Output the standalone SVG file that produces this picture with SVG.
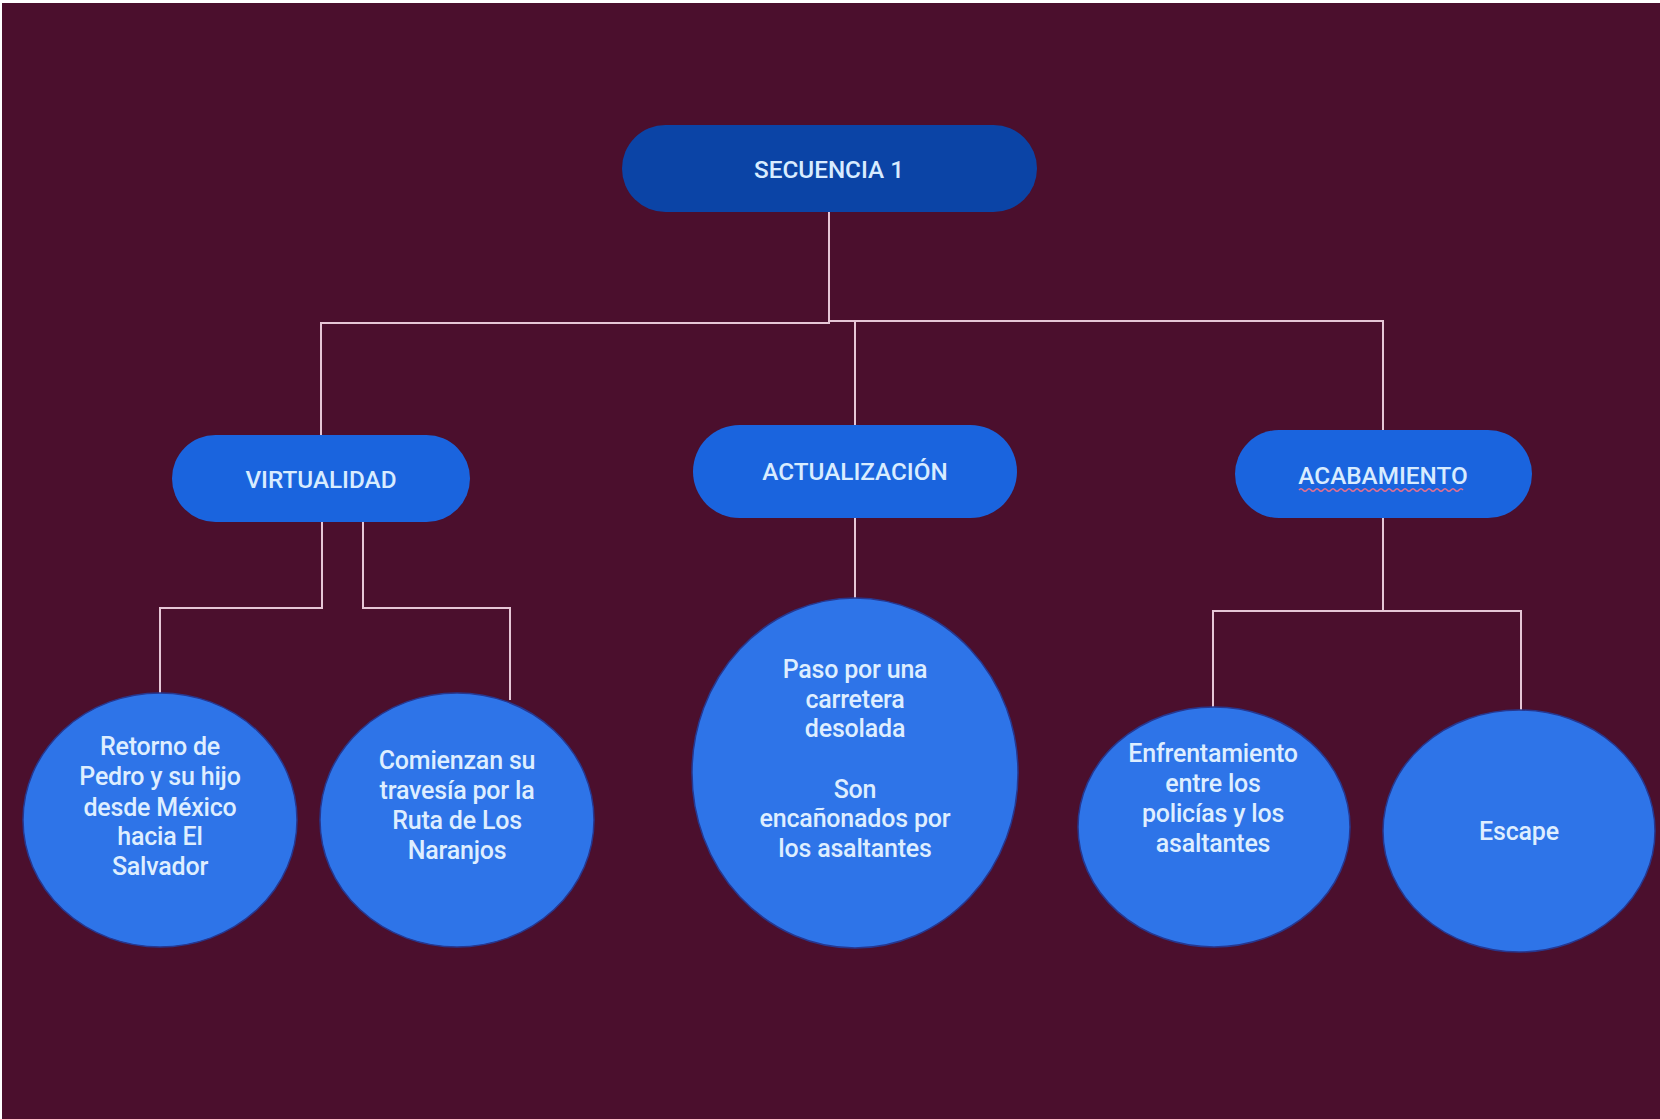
<svg xmlns="http://www.w3.org/2000/svg" width="1660" height="1119" viewBox="0 0 1660 1119">
<style>
.bg{fill:#4b0f2d}
.line{fill:none;stroke:#e6c6d6;stroke-width:2}
.pill{fill:#1a64de}
.pill-top{fill:#0b44a6}
.circ{fill:#2e74e8;stroke:#27378f;stroke-width:1.5}
.lbl{font-family:Roboto,"Liberation Sans",sans-serif;font-weight:500;font-size:24.3px;fill:#d8ecff;text-anchor:middle}
.ct{font-family:Roboto,"Liberation Sans",sans-serif;font-weight:500;font-size:25px;letter-spacing:-0.2px;fill:#deeeff;text-anchor:middle}
</style>
<rect x="0" y="0" width="1660" height="1119" fill="#ffffff"/>
<rect class="bg" x="2" y="3" width="1658" height="1116"/>
<g id="connectors">
<polyline class="line" points="829,212 829,323 321,323 321,435"/>
<polyline class="line" points="829,321 1383,321 1383,430"/>
<polyline class="line" points="855,321 855,425"/>
<polyline class="line" points="322,522 322,608 160,608 160,693"/>
<polyline class="line" points="363,518 363,608 510,608 510,700"/>
<polyline class="line" points="855,518 855,598"/>
<polyline class="line" points="1383,518 1383,611 1213,611 1213,707"/>
<polyline class="line" points="1383,611 1521,611 1521,711"/>
</g>
<g id="secuencia1">
<rect class="pill-top" x="622" y="125" width="415" height="87" rx="43.5"/>
<text class="lbl" x="829" y="178">SECUENCIA 1</text>
</g>
<g id="virtualidad">
<rect class="pill" x="172" y="435" width="298" height="87" rx="43.5"/>
<text class="lbl" x="321" y="488">VIRTUALIDAD</text>
</g>
<g id="actualizacion">
<rect class="pill" x="693" y="425" width="324" height="93" rx="46.5"/>
<text class="lbl" x="855" y="480">ACTUALIZACIÓN</text>
</g>
<g id="acabamiento">
<rect class="pill" x="1235" y="430" width="297" height="88" rx="44"/>
<text class="lbl" x="1383" y="484">ACABAMIENTO</text>
<path d="M1299,490 q2,-2.5 4,0 t4,0 t4,0 t4,0 t4,0 t4,0 t4,0 t4,0 t4,0 t4,0 t4,0 t4,0 t4,0 t4,0 t4,0 t4,0 t4,0 t4,0 t4,0 t4,0 t4,0 t4,0 t4,0 t4,0 t4,0 t4,0 t4,0 t4,0 t4,0 t4,0 t4,0 t4,0 t4,0 t4,0 t4,0 t4,0 t4,0 t4,0 t4,0 t4,0 t4,0" fill="none" stroke="#e8708f" stroke-width="1.4"/>
</g>
<g id="retorno">
<ellipse class="circ" cx="160" cy="820" rx="137" ry="127"/>
<text class="ct" x="160" y="755">Retorno de</text>
<text class="ct" x="160" y="785">Pedro y su hijo</text>
<text class="ct" x="160" y="816">desde México</text>
<text class="ct" x="160" y="845">hacia El</text>
<text class="ct" x="160" y="875">Salvador</text>
</g>
<g id="comienzan">
<ellipse class="circ" cx="457" cy="820" rx="137" ry="127"/>
<text class="ct" x="457" y="769">Comienzan su</text>
<text class="ct" x="457" y="799">travesía por la</text>
<text class="ct" x="457" y="829">Ruta de Los</text>
<text class="ct" x="457" y="859">Naranjos</text>
</g>
<g id="paso">
<ellipse class="circ" cx="855" cy="773" rx="163" ry="175"/>
<text class="ct" x="855" y="678">Paso por una</text>
<text class="ct" x="855" y="708">carretera</text>
<text class="ct" x="855" y="737">desolada</text>
<text class="ct" x="855" y="798">Son</text>
<text class="ct" x="855" y="827">encañonados por</text>
<text class="ct" x="855" y="857">los asaltantes</text>
</g>
<g id="enfrentamiento">
<ellipse class="circ" cx="1214" cy="827" rx="136" ry="120"/>
<text class="ct" x="1213" y="762">Enfrentamiento</text>
<text class="ct" x="1213" y="792">entre los</text>
<text class="ct" x="1213" y="822">policías y los</text>
<text class="ct" x="1213" y="852">asaltantes</text>
</g>
<g id="escape">
<ellipse class="circ" cx="1519" cy="831" rx="136" ry="121"/>
<text class="ct" x="1519" y="840" font-weight="700">Escape</text>
</g>
</svg>
